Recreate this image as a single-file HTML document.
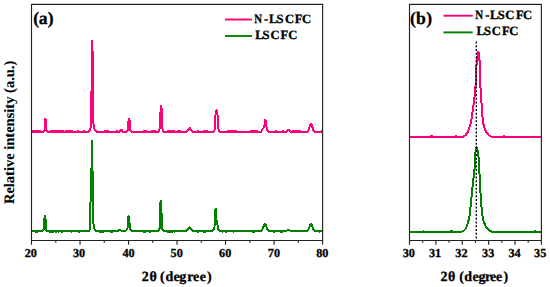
<!DOCTYPE html>
<html><head><meta charset="utf-8"><style>
html,body{margin:0;padding:0;background:#fff;width:550px;height:287px;overflow:hidden;}
svg{display:block;}
</style></head><body>
<svg width="550" height="287" viewBox="0 0 550 287">
<rect width="550" height="287" fill="#fff"/>
<polyline fill="none" stroke="#ff0078" stroke-width="2.0" stroke-linejoin="round" shape-rendering="crispEdges" points="31.80,132 43.50,132 44.60,130.10 45,125.34 45.10,119.43 45.40,118.90 45.80,119.85 46,125.34 46.40,130.10 47.50,132 87.50,132 88.80,131.70 89.70,130.19 90.50,128.17 90.80,124.64 91,92.39 91.80,90.38 91.90,44.02 92.05,41.20 92.20,44.02 92.40,50.57 93.20,52.08 93.20,119.60 93.60,125.15 94.30,128.17 95.20,130.49 96.40,131.80 97.50,132 119.50,132 120.60,130.45 121.30,129.60 122,130.45 123,132 126.50,132 127.60,130.63 128.30,127.46 128.50,121.11 128.90,119 129.30,119.85 129.70,120.59 129.80,127.46 130.50,130.63 131.80,132 158,132 159.30,130.46 160,126.56 160.10,112.69 160.60,111.56 161,106.01 161.20,105.70 161.40,106.01 161.70,111.56 161.90,112.69 162,126.56 162.80,130.46 164.30,132 186,132 187.50,130.42 189,128.71 189.70,128.10 190.50,128.95 191.50,130.66 193,132 212.50,132 214.20,130.97 215,127.56 215.20,117.23 215.60,113.92 216.30,111.03 216.50,110.20 216.80,111.03 217.40,113.92 217.90,117.23 218.10,127.56 218.90,130.97 220.50,132 261,132 262.50,129.03 263.60,128.07 264.60,125.32 265,121.07 265.40,119.80 265.80,121.07 266.30,125.32 266.90,129.56 268.50,132 286.50,132 287.80,130.50 288.50,129.90 289.20,130.50 290.50,132 307,132 308.60,129.82 310.20,125.12 311,123.70 311.80,124.57 312.70,128.40 313.80,131.13 315,132 322,132"/>
<polyline fill="none" stroke="#008000" stroke-width="2.0" stroke-linejoin="round" shape-rendering="crispEdges" points="31.80,231 42,231 43.80,229.68 44.10,227.15 44.60,216.50 45,216.20 45.30,218.02 45.80,220.86 46,229.18 46.80,231 87.50,231 89.20,230.60 90,228.69 90.20,214.16 90.80,190.11 90.80,170.06 91.50,168.86 91.85,143 91.95,140.90 92.05,143 92.20,171.07 93,172.47 93,218.17 93.50,224.18 94.30,228.49 95.50,230.50 97.50,231 118.50,231 119.60,229.80 120.60,230.28 121.50,231 125.50,231 127.20,229.18 127.90,226.13 128.30,216.50 128.60,216.20 128.90,217.52 129.40,221.07 129.70,226.13 130.40,229.18 131.50,231 157.50,231 159,229.99 159.90,227.17 160,206.03 160.40,203.01 160.80,201.20 161.10,202.01 161.40,212.07 161.70,213.68 161.80,227.17 162.40,229.69 163.80,231 186,231 187.50,229.73 188.80,227.83 189.40,227.20 190.10,227.83 191.30,229.73 192.80,231 212,231 213.60,229.69 214.50,227.17 215,214.05 215.30,209.51 215.90,208.80 216.30,209.51 216.40,214.05 216.50,220.10 217.20,222.12 217.80,227.17 218.70,229.99 220.50,231 260.50,231 262.30,229.77 263.40,226.58 264.50,224.01 265,223.60 265.80,224.53 266.60,227.09 267.60,229.77 269.50,231 286.50,231 287.80,229.95 288.50,229.60 289.20,229.95 290.50,231 306.50,231 308.30,229.76 309.60,226.57 310.60,224.51 311.10,224 311.70,224.82 312.60,227.09 313.60,229.76 315.50,231 322.50,231"/>
<polyline fill="none" stroke="#ff0078" stroke-width="2.0" stroke-linejoin="round" shape-rendering="crispEdges" points="409.80,137 461,137 463.50,136.50 465.50,135.20 467.30,132.80 468.60,129.80 469.80,126.50 470.70,123.20 471.80,117 472.70,110.70 473.60,104 474.50,97 475,88.50 475.90,84 476.20,70 476.80,60 477.60,55 478.30,52 478.90,52.80 479.40,57 479.90,72 480.40,85 480.70,92 481.30,97 481.60,105 482,111 482.60,118 483.20,123.20 484.20,127 485.50,130.50 487,133.30 489,135.50 491.50,136.60 494,137 541,137"/>
<polyline fill="none" stroke="#008000" stroke-width="2.0" stroke-linejoin="round" shape-rendering="crispEdges" points="409.80,232 459,232 462,231.60 464.30,230.40 466,228.30 467.20,225.50 468.30,221.50 469.30,217 469.90,213.50 470.50,207 471.30,199 472.20,190 473,182 473.90,175 474.30,172 474.90,165 475.20,156 475.60,150.40 476.40,147 477.20,148.30 478,153 478.50,157 479,168 479.60,175 480.10,185 480.30,190 481,200 481.60,208 482.10,213.50 483,219 484,222.50 485.30,225.50 487,228.30 489,230.40 491.50,231.60 494,232 541,232"/>
<path fill="#ff0078" shape-rendering="crispEdges" d="M32 130h1v1h-1zM33 130h4v1h-4zM37 130h1v1h-1zM38 130h1v1h-1zM39 130h2v1h-2zM50 130h1v1h-1zM51 130h4v1h-4zM55 130h2v1h-2zM57 130h3v1h-3zM60 130h2v1h-2zM62 130h2v1h-2zM65 130h2v1h-2zM67 130h2v1h-2zM69 130h4v1h-4zM77 130h2v1h-2zM83 130h2v1h-2zM104 130h3v1h-3zM107 130h2v1h-2zM116 130h2v1h-2zM143 130h4v1h-4zM151 130h1v1h-1zM152 130h4v1h-4zM167 130h4v1h-4zM171 130h4v1h-4zM177 130h4v1h-4zM197 130h2v1h-2zM203 130h2v1h-2zM205 130h3v1h-3zM227 130h2v1h-2zM229 130h3v1h-3zM232 130h3v1h-3zM235 130h2v1h-2zM250 130h4v1h-4zM254 130h4v1h-4zM275 130h2v1h-2zM282 130h2v1h-2zM292 130h3v1h-3zM295 130h4v1h-4zM299 130h2v1h-2zM321 130h1v1h-1z"/><path fill="#008000" shape-rendering="crispEdges" d="M35 232h3v1h-3zM49 232h2v1h-2zM51 232h3v1h-3zM55 232h2v1h-2zM58 232h1v1h-1zM61 232h2v1h-2zM71 232h1v1h-1zM78 232h2v1h-2zM99 232h2v1h-2zM101 232h3v1h-3zM110 232h3v1h-3zM143 232h3v1h-3zM149 232h2v1h-2zM167 232h3v1h-3zM170 232h3v1h-3zM174 232h1v1h-1zM197 232h2v1h-2zM203 232h3v1h-3zM222 232h1v1h-1zM225 232h2v1h-2zM233 232h1v1h-1zM252 232h3v1h-3zM273 232h2v1h-2zM280 232h3v1h-3zM319 232h1v1h-1z"/><path fill="#ff0078" shape-rendering="crispEdges" d="M430 135h3v1h-3zM455 135h2v1h-2zM503 135h2v1h-2z"/><path fill="#008000" shape-rendering="crispEdges" d="M423 230h1v1h-1zM450 230h3v1h-3zM534 230h2v1h-2z"/>
<line x1="476.3" y1="41.5" x2="476.3" y2="240" stroke="#000" stroke-width="1.35" stroke-dasharray="1.9 1.85"/>
<g stroke="#222" stroke-width="1.15" fill="none" stroke-linejoin="round">
<rect x="31.5" y="4.4" width="291.10" height="236.10"/>
<rect x="409.5" y="4.4" width="131.90" height="236.10"/>
<line x1="31.50" y1="240.50" x2="31.50" y2="244.70"/><line x1="55.76" y1="240.50" x2="55.76" y2="242.80"/><line x1="80.02" y1="240.50" x2="80.02" y2="244.70"/><line x1="104.28" y1="240.50" x2="104.28" y2="242.80"/><line x1="128.53" y1="240.50" x2="128.53" y2="244.70"/><line x1="152.79" y1="240.50" x2="152.79" y2="242.80"/><line x1="177.05" y1="240.50" x2="177.05" y2="244.70"/><line x1="201.31" y1="240.50" x2="201.31" y2="242.80"/><line x1="225.57" y1="240.50" x2="225.57" y2="244.70"/><line x1="249.83" y1="240.50" x2="249.83" y2="242.80"/><line x1="274.08" y1="240.50" x2="274.08" y2="244.70"/><line x1="298.34" y1="240.50" x2="298.34" y2="242.80"/><line x1="322.60" y1="240.50" x2="322.60" y2="244.70"/><line x1="409.50" y1="240.50" x2="409.50" y2="244.70"/><line x1="422.69" y1="240.50" x2="422.69" y2="242.80"/><line x1="435.88" y1="240.50" x2="435.88" y2="244.70"/><line x1="449.07" y1="240.50" x2="449.07" y2="242.80"/><line x1="462.26" y1="240.50" x2="462.26" y2="244.70"/><line x1="475.45" y1="240.50" x2="475.45" y2="242.80"/><line x1="488.64" y1="240.50" x2="488.64" y2="244.70"/><line x1="501.83" y1="240.50" x2="501.83" y2="242.80"/><line x1="515.02" y1="240.50" x2="515.02" y2="244.70"/><line x1="528.21" y1="240.50" x2="528.21" y2="242.80"/><line x1="541.40" y1="240.50" x2="541.40" y2="244.70"/>
</g>
<g stroke-width="1.9">
<line x1="225" y1="19.5" x2="252" y2="19.5" stroke="#ff0078"/>
<line x1="225" y1="36" x2="252" y2="36" stroke="#008000"/>
<line x1="443.5" y1="15.7" x2="472.7" y2="15.7" stroke="#ff0078"/>
<line x1="443.5" y1="32.4" x2="472.7" y2="32.4" stroke="#008000"/>
</g>
<g font-family="Liberation Serif" font-weight="bold" fill="#000" stroke="#000" stroke-width="0.3" text-rendering="geometricPrecision">
<g font-size="12.2"><text x="30.85" y="256.5" text-anchor="middle">20</text><text x="79.10" y="256.5" text-anchor="middle">30</text><text x="128.60" y="256.5" text-anchor="middle">40</text><text x="176.70" y="256.5" text-anchor="middle">50</text><text x="225.20" y="256.5" text-anchor="middle">60</text><text x="273.90" y="256.5" text-anchor="middle">70</text><text x="322.30" y="256.5" text-anchor="middle">80</text><text x="408.80" y="256.5" text-anchor="middle">30</text><text x="435.10" y="256.5" text-anchor="middle">31</text><text x="461.40" y="256.5" text-anchor="middle">32</text><text x="488.20" y="256.5" text-anchor="middle">33</text><text x="514.50" y="256.5" text-anchor="middle">34</text><text x="540.20" y="256.5" text-anchor="middle">35</text></g>
<text x="33.13 38.64 47.64" y="24.4" font-size="17.6">(a)</text>
<text x="410.03 416.07 426.14" y="24.4" font-size="17.6">(b)</text>
<g font-size="12.6">
<text x="254.3" y="22.6" textLength="7.8" lengthAdjust="spacingAndGlyphs">N</text><text x="263.93 268.99 276.53 284.98 294.79 302.08" y="22.6">-LSCFC</text>
<text x="255.14 262.53 270.48 280.49 288.28" y="39.1">LSCFC</text>
<text x="475.2" y="19.0" textLength="7.9" lengthAdjust="spacingAndGlyphs">N</text><text x="485.13 489.89 497.73 505.28 515.99 522.98" y="19.0">-LSCFC</text>
<text x="476.39 483.93 491.68 501.89 509.28" y="35.1">LSCFC</text>
</g>
<g font-size="14.5">
<text font-size="14" x="141.71 149.51 157 159.88 165.53 173.42 179.14 187.32 193.12 199.72 206.95" y="281.2">2θ (degree)</text>
<text font-size="14" x="440.51 448.01 455 459.28 464.13 472.62 478.44 485.12 490.12 496.02 503.55" y="280.6">2θ (degree)</text>
<text transform="translate(13.9,132.4) rotate(-90)" text-anchor="middle" font-size="14.5" stroke-width="0.12">Relative intensity (a.u.)</text>
</g>
</g>
</svg>
</body></html>
